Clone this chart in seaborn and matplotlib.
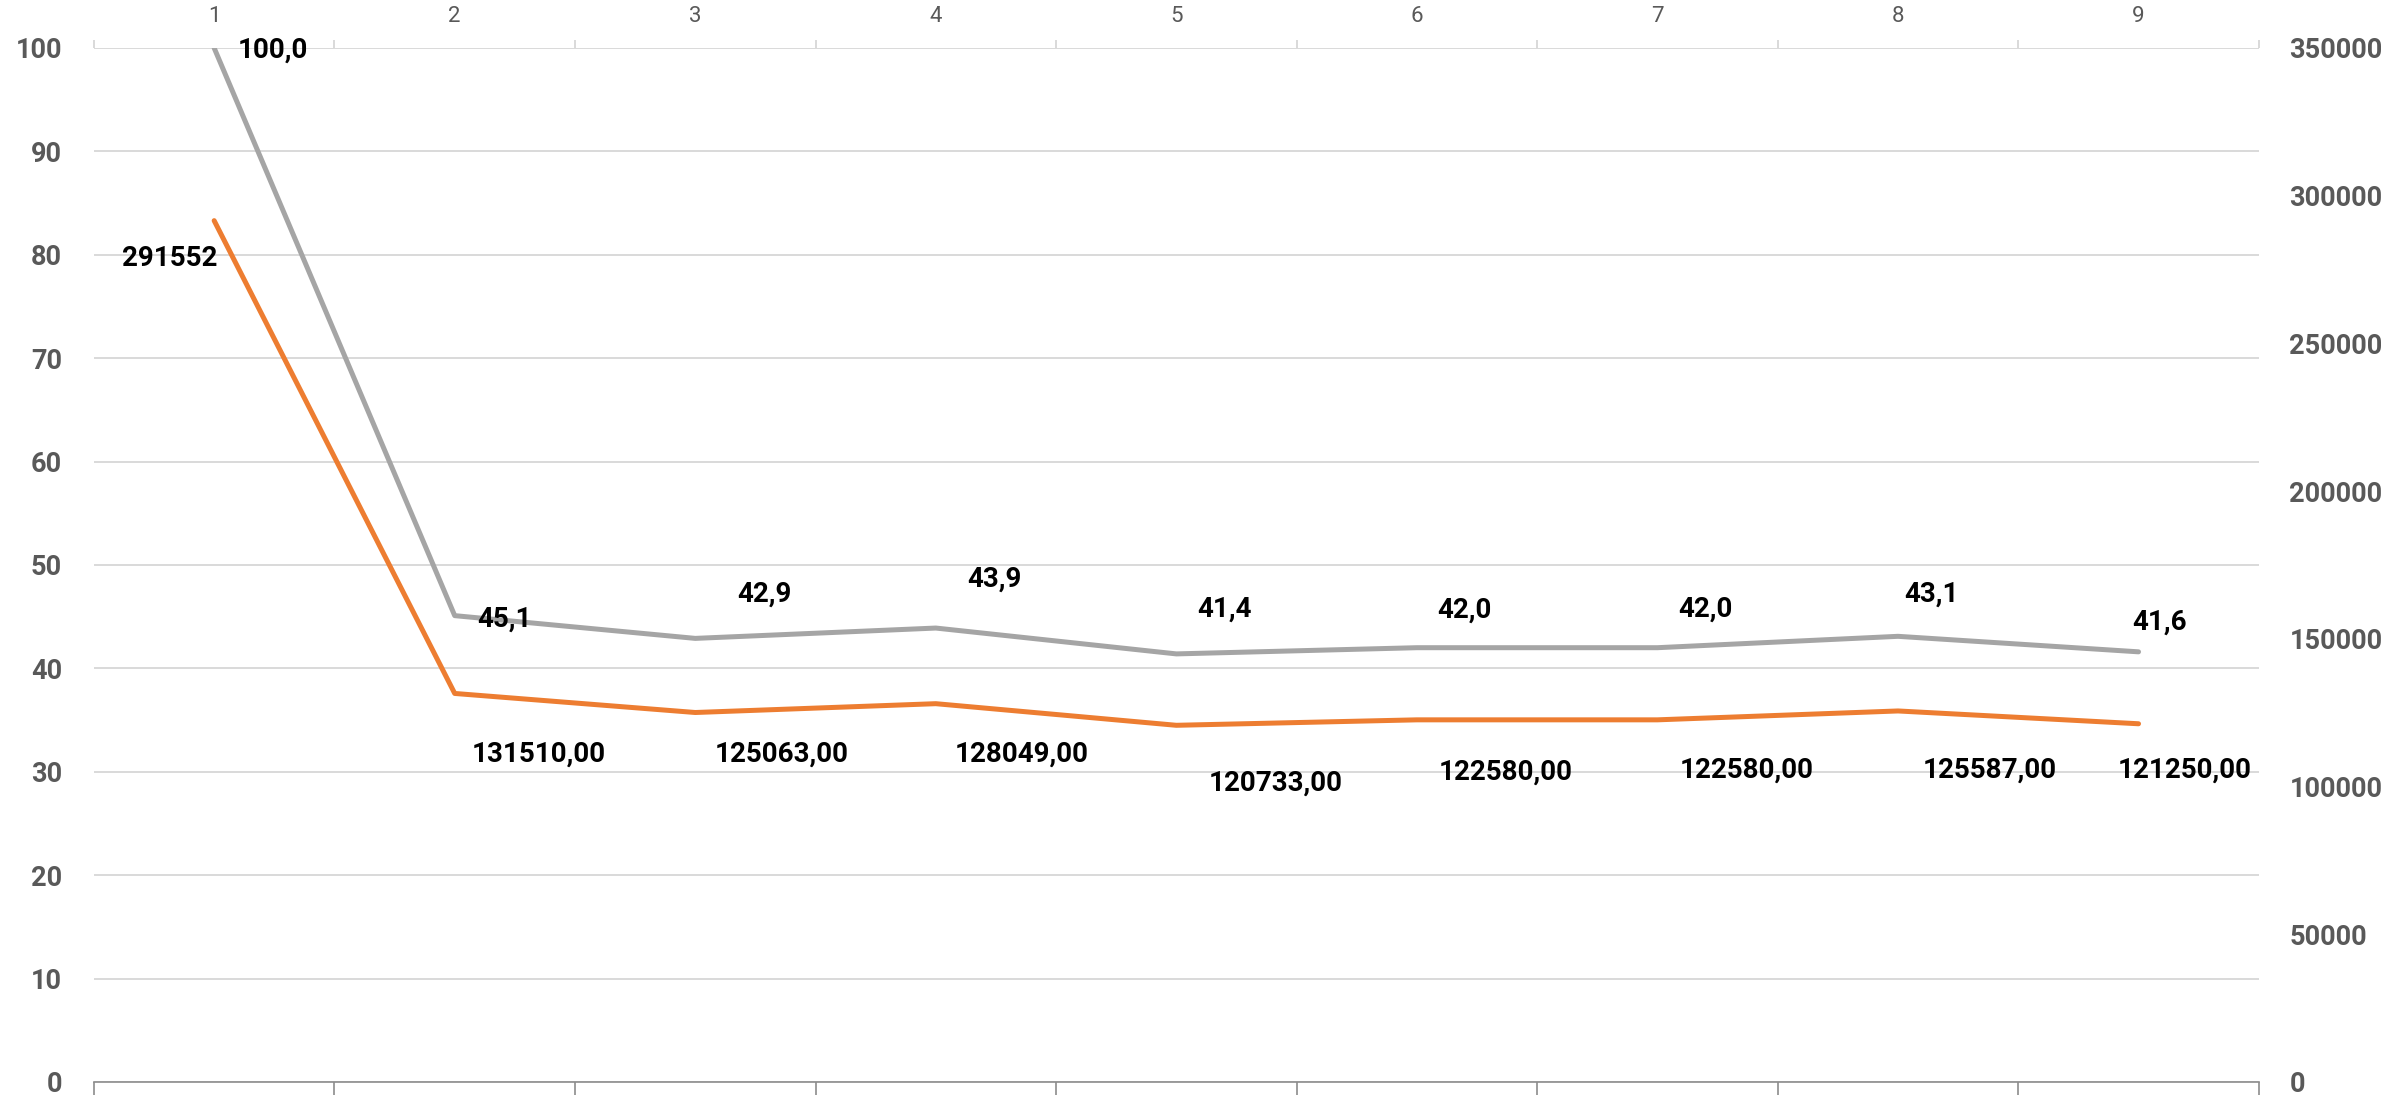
import numpy as np
import pandas as pd
import matplotlib
matplotlib.use("Agg")
import matplotlib.pyplot as plt
import seaborn as sns

# ---- data ----
categories = [1, 2, 3, 4, 5, 6, 7, 8, 9]
share_pct = [100.0, 45.1, 42.9, 43.9, 41.4, 42.0, 42.0, 43.1, 41.6]
amount = [291552, 131510, 125063, 128049, 120733, 122580, 122580, 125587, 121250]
left_ticks = [0, 10, 20, 30, 40, 50, 60, 70, 80, 90, 100]
right_ticks = [0, 50000, 100000, 150000, 200000, 250000, 300000, 350000]
share_labels = [f"{v:.1f}".replace(".", ",") for v in share_pct]
amount_labels = [f"{amount[0]:.0f}"] + [f"{v:.2f}".replace(".", ",") for v in amount[1:]]

# ---- label offsets (pixels, x right / y up) ----
share_off = [(59, -2), (50, -4), (69, 44), (59, 49), (48, 45), (48, 38), (48, 39), (34, 42), (21, 30)]
amount_off = [(-44, -38), (84, -61), (86, -42), (86, -50), (99, -58), (89, -52), (89, -50), (92, -59), (46, -46)]

sns.set_theme(style="white")
plt.rcParams["font.family"] = ["Roboto", "DejaVu Sans"]

GRAY = "#A5A5A5"
ORANGE = "#ED7D31"
GRID = "#D9D9D9"
TXT = "#595959"
WEIGHT = "bold"

df = pd.DataFrame({"cat": categories, "pct": share_pct, "amt": amount})

fig = plt.figure(figsize=(23.89, 10.98), dpi=100)
ax = fig.add_axes([0.0393, 0.0146, 0.9062, 0.9417])

sns.lineplot(data=df, x="cat", y="pct", ax=ax, color=GRAY, linewidth=3.6,
             solid_capstyle="round", zorder=3)
ax2 = ax.twinx()
sns.lineplot(data=df, x="cat", y="amt", ax=ax2, color=ORANGE, linewidth=3.6,
             solid_capstyle="round", zorder=3)

ax.set_xlim(0.5, 9.5)
ax.set_ylim(0, 100)
ax2.set_ylim(0, 350000)
ax.set_yticks(left_ticks)
ax2.set_yticks(right_ticks)
ax.set_yticklabels([str(t) for t in left_ticks], fontsize=19.5, fontweight=WEIGHT, color=TXT)
ax2.set_yticklabels([str(t) for t in right_ticks], fontsize=19.5, fontweight=WEIGHT, color=TXT)

ax.yaxis.grid(True, color=GRID, linewidth=1.4)
ax.set_axisbelow(True)

for a in (ax, ax2):
    a.set_xlabel("")
    a.set_ylabel("")
    for s in a.spines.values():
        s.set_visible(False)

ax.spines["bottom"].set_visible(True)
ax.spines["bottom"].set_color("#8C8C8C")
ax.spines["bottom"].set_linewidth(1.2)
ax.spines["bottom"].set_zorder(4)

boundaries = [c - 0.5 for c in categories] + [categories[-1] + 0.5]
ax.set_xticks([])
ax.set_xticks(boundaries, minor=True)
ax.tick_params(axis="x", which="minor", bottom=True, top=False, direction="out",
               length=9, width=1.2, color="#8C8C8C", labelbottom=False)

sec = ax.secondary_xaxis("top")
sec.set_xticks(categories)
sec.set_xticks(boundaries, minor=True)
sec.tick_params(which="major", length=0, pad=15, labelsize=16, labelcolor=TXT)
sec.tick_params(which="minor", length=6, width=1.4, color=GRID, direction="out")
sec.set_xticklabels([str(c) for c in categories], fontsize=16, color=TXT)
for s in sec.spines.values():
    s.set_visible(False)

ax.tick_params(axis="y", length=0, pad=23, left=False)
ax2.tick_params(axis="y", length=0, pad=22, right=False)

for c, v, t, (dx, dy) in zip(categories, share_pct, share_labels, share_off):
    ax.annotate(t, (c, v), xytext=(dx, dy), textcoords="offset pixels",
                ha="center", va="center", fontsize=20, fontweight=WEIGHT,
                color="black", annotation_clip=False, zorder=6)
for c, v, t, (dx, dy) in zip(categories, amount, amount_labels, amount_off):
    ax2.annotate(t, (c, v), xytext=(dx, dy), textcoords="offset pixels",
                 ha="center", va="center", fontsize=20, fontweight=WEIGHT,
                 color="black", annotation_clip=False, zorder=6)

fig.savefig("out.png", dpi=100, facecolor="white")
